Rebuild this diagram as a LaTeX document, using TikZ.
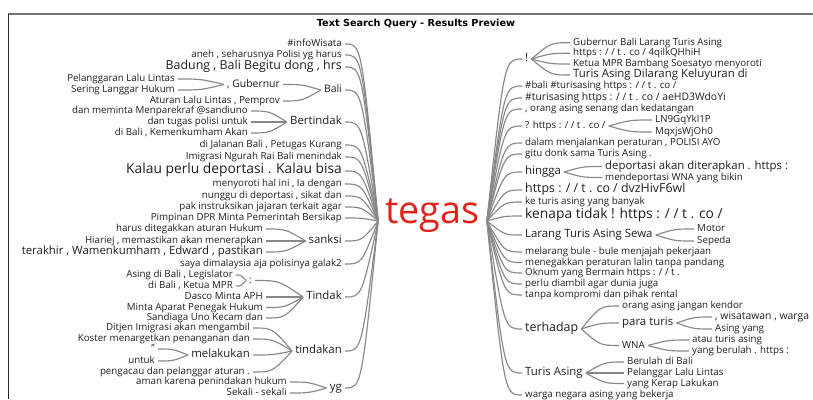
\documentclass[tikz,border=0pt]{standalone}
\usepackage{fontspec}
\setmainfont{Open Sans}
\newfontfamily\titlefont{DejaVu Sans}
\usetikzlibrary{calc}
\definecolor{txtc}{HTML}{1E1E1E}
\definecolor{lnc}{HTML}{888888}
\definecolor{redc}{HTML}{E3221B}
\newcommand\lnk[2]{\draw[link] let \p1=(#1), \p2=(#2) in (\p1) .. controls ({0.5*\x1+0.5*\x2},\y2) .. (\p2);}
\begin{document}
\begin{tikzpicture}[x=1pt,y=-1pt,
  link/.style={draw=lnc, line width=1.15pt},
  wt/.style={text=txtc, inner xsep=3pt, inner ysep=0.5pt},
  fsm/.style={wt, font=\fontsize{9.75}{11}\selectfont},
  fsmb/.style={wt, font=\fontsize{10.4}{12}\selectfont},
  fmd/.style={wt, font=\fontsize{11.4}{13}\selectfont},
  fml/.style={wt, font=\fontsize{12.4}{14}\selectfont},
  flg/.style={wt, font=\fontsize{13.8}{15}\selectfont},
  lft/.style={anchor=mid east},
  rgt/.style={anchor=mid west}]
\useasboundingbox (0,0) rectangle (813,399);
\draw[draw=black!55, line width=1.2pt] (8,14) -- (813,14);
\draw[draw=black!85, line width=1.2pt] (8.5,14) -- (8.5,399);
\node[font=\titlefont\bfseries\fontsize{9.7}{11}\selectfont, text=black] (title) at (416,24) {Text Search Query - Results Preview};
\node[font=\fontsize{37.8}{40}\selectfont, text=redc, inner xsep=7pt, inner ysep=0pt, anchor=mid] (root) at (432.5,221) {tegas};
% ---------- left level 1
\node[fsm,lft] (l1) at (345,44) {\#infoWisata};
\node[fsm,lft] (l2) at (345,55) {aneh , seharusnya Polisi yg harus};
\node[fml,lft] (l3) at (345,67) {Badung , Bali Begitu dong , hrs};
\node[fsmb,lft] (l4) at (345,90) {Bali};
\node[fmd,lft] (l5) at (345,122) {Bertindak};
\node[fsm,lft] (l6) at (345,145) {di Jalanan Bali , Petugas Kurang};
\node[fsm,lft] (l7) at (345,157) {Imigrasi Ngurah Rai Bali menindak};
\node[flg,lft] (l8) at (345,171) {Kalau perlu deportasi . Kalau bisa};
\node[fsm,lft] (l9) at (345,184) {menyoroti hal ini , Ia dengan};
\node[fsm,lft] (l10) at (345,196) {nunggu di deportasi , sikat dan};
\node[fsm,lft] (l11) at (345,207) {pak instruksikan jajaran terkait agar};
\node[fsm,lft] (l12) at (345,218) {Pimpinan DPR Minta Pemerintah Bersikap};
\node[fmd,lft] (l13) at (345,241) {sanksi};
\node[fsm,lft] (l14) at (345,264) {saya dimalaysia aja polisinya galak2};
\node[fmd,lft] (l15) at (345,297) {Tindak};
\node[fmd,lft] (l16) at (345,351) {tindakan};
\node[fmd,lft] (l17) at (345,388) {yg};
\foreach \nd in {l1,l2,l3,l4,l5,l6,l7,l8,l9,l10,l11,l12,l13,l14,l15,l16,l17}{\lnk{root.mid west}{\nd.mid east}}
% Bali
\node[fsmb,lft] (ba1) at (283,84.5) {, Gubernur};
\node[fsm,lft] (ba2) at (283,101) {Aturan Lalu Lintas , Pemprov};
\node[fsm,lft] (gu1) at (178,79) {Pelanggaran Lalu Lintas};
\node[fsm,lft] (gu2) at (178,90) {Sering Langgar Hukum};
\lnk{l4.mid west}{ba1.mid east}
\lnk{l4.mid west}{ba2.mid east}
\lnk{ba1.mid west}{gu1.mid east}
\lnk{ba1.mid west}{gu2.mid east}
% Bertindak
\node[fsm,lft] (be1) at (251,111) {dan meminta Menparekraf @sandiuno};
\node[fsm,lft] (be2) at (251,122) {dan tugas polisi untuk};
\node[fsm,lft] (be3) at (251,133) {di Bali , Kemenkumham Akan};
\foreach \nd in {be1,be2,be3}{\lnk{l5.mid west}{\nd.mid east}}
% sanksi
\node[fsm,lft] (sa1) at (266,229) {harus ditegakkan aturan Hukum};
\node[fsm,lft] (sa2) at (266,241) {Hiariej , memastikan akan menerapkan};
\node[fmd,lft] (sa3) at (266,252) {terakhir , Wamenkumham , Edward , pastikan};
\foreach \nd in {sa1,sa2,sa3}{\lnk{l13.mid west}{\nd.mid east}}
% Tindak
\node[fsm,lft] (ti1) at (255,280.5) {:};
\node[fsm,lft] (ti2) at (266,297) {Dasco Minta APH};
\node[fsm,lft] (ti3) at (266,307.5) {Minta Aparat Penegak Hukum};
\node[fsm,lft] (ti4) at (266,318) {Sandiaga Uno Kecam dan};
\foreach \nd in {ti1,ti2,ti3,ti4}{\lnk{l15.mid west}{\nd.mid east}}
\node[fsm,lft] (co1) at (236,275) {Asing di Bali , Legislator};
\node[fsm,lft] (co2) at (236,286) {di Bali , Ketua MPR};
\lnk{ti1.mid west}{co1.mid east}
\lnk{ti1.mid west}{co2.mid east}
% tindakan
\node[fsm,lft] (tk1) at (253,328) {Ditjen Imigrasi akan mengambil};
\node[fsm,lft] (tk2) at (253,339) {Koster menargetkan penanganan dan};
\node[fmd,lft] (tk3) at (253,355) {melakukan};
\node[fsm,lft] (tk4) at (253,372) {pengacau dan pelanggar aturan .};
\foreach \nd in {tk1,tk2,tk3,tk4}{\lnk{l16.mid west}{\nd.mid east}}
\node[fsm,lft] (me1) at (158,349) {"};
\node[fsm,lft] (me2) at (158,361) {untuk};
\lnk{tk3.mid west}{me1.mid east}
\lnk{tk3.mid west}{me2.mid east}
% yg
\node[fsm,lft] (yg1) at (290,382) {aman karena penindakan hukum};
\node[fsm,lft] (yg2) at (290,393) {Sekali - sekali};
\lnk{l17.mid west}{yg1.mid east}
\lnk{l17.mid west}{yg2.mid east}
% ---------- right level 1
\node[fmd,rgt] (r1) at (522,59) {!};
\node[fsm,rgt] (r2) at (522,86) {\#bali \#turisasing https : / / t . co /};
\node[fsmb,rgt] (r3) at (522,98) {\#turisasing https : / / t . co / aeHD3WdoYi};
\node[fsm,rgt] (r4) at (522,109) {, orang asing senang dan kedatangan};
\node[fsm,rgt] (r5) at (522,126) {? https : / / t . co /};
\node[fsm,rgt] (r6) at (522,143) {dalam menjalankan peraturan , POLISI AYO};
\node[fsm,rgt] (r7) at (522,154) {gitu donk sama Turis Asing .};
\node[fmd,rgt] (r8) at (522,172) {hingga};
\node[fml,rgt] (r9) at (522,190) {https : / / t . co / dvzHivF6wl};
\node[fsm,rgt] (r10) at (522,202) {ke turis asing yang banyak};
\node[flg,rgt] (r11) at (522,216) {kenapa tidak ! https : / / t . co /};
\node[fmd,rgt] (r12) at (522,235) {Larang Turis Asing Sewa};
\node[fsm,rgt] (r13) at (522,252) {melarang bule - bule menjajah pekerjaan};
\node[fsm,rgt] (r14) at (522,262.5) {menegakkan peraturan lalin tanpa pandang};
\node[fsm,rgt] (r15) at (522,273) {Oknum yang Bermain https : / / t .};
\node[fsm,rgt] (r16) at (522,284) {perlu diambil agar dunia juga};
\node[fsm,rgt] (r17) at (522,295) {tanpa kompromi dan pihak rental};
\node[fml,rgt] (r18) at (522,329) {terhadap};
\node[fmd,rgt] (r19) at (522,373) {Turis Asing};
\node[fsm,rgt] (r20) at (522,395) {warga negara asing yang bekerja};
\foreach \nd in {r1,r2,r3,r4,r5,r6,r7,r8,r9,r10,r11,r12,r13,r14,r15,r16,r17,r18,r19,r20}{\lnk{root.mid east}{\nd.mid west}}
% !
\node[fsm,rgt] (ex1) at (570,42.7) {Gubernur Bali Larang Turis Asing};
\node[fsm,rgt] (ex2) at (570,53.3) {https : / / t . co / 4qilkQHhiH};
\node[fsm,rgt] (ex3) at (570,64) {Ketua MPR Bambang Soesatyo menyoroti};
\node[fmd,rgt] (ex4) at (570,75) {Turis Asing Dilarang Keluyuran di};
\foreach \nd in {ex1,ex2,ex3,ex4}{\lnk{r1.mid east}{\nd.mid west}}
% ? https
\node[fsm,rgt] (qu1) at (652,120) {LN9GqYkl1P};
\node[fsm,rgt] (qu2) at (652,132) {MqxjsWjOh0};
\lnk{r5.mid east}{qu1.mid west}
\lnk{r5.mid east}{qu2.mid west}
% hingga
\node[fmd,rgt] (hi1) at (602,166.5) {deportasi akan diterapkan . https :};
\node[fsm,rgt] (hi2) at (602,177.5) {mendeportasi WNA yang bikin};
\lnk{r8.mid east}{hi1.mid west}
\lnk{r8.mid east}{hi2.mid west}
% Larang
\node[fsm,rgt] (la1) at (694,229) {Motor};
\node[fsm,rgt] (la2) at (694,241) {Sepeda};
\lnk{r12.mid east}{la1.mid west}
\lnk{r12.mid east}{la2.mid west}
% terhadap
\node[fsm,rgt] (te1) at (619,306) {orang asing jangan kendor};
\node[fmd,rgt] (te2) at (619,323) {para turis};
\node[fsm,rgt] (te3) at (619,345.5) {WNA};
\foreach \nd in {te1,te2,te3}{\lnk{r18.mid east}{\nd.mid west}}
\node[fsmb,rgt] (pt1) at (712,317) {, wisatawan , warga};
\node[fsm,rgt] (pt2) at (712,329) {Asing yang};
\lnk{te2.mid east}{pt1.mid west}
\lnk{te2.mid east}{pt2.mid west}
\node[fsm,rgt] (wn1) at (689,340) {atau turis asing};
\node[fsm,rgt] (wn2) at (689,351) {yang berulah . https :};
\lnk{te3.mid east}{wn1.mid west}
\lnk{te3.mid east}{wn2.mid west}
% Turis Asing
\node[fsm,rgt] (tu1) at (624,362) {Berulah di Bali};
\node[fsm,rgt] (tu2) at (624,373) {Pelanggar Lalu Lintas};
\node[fsm,rgt] (tu3) at (624,383.5) {yang Kerap Lakukan};
\foreach \nd in {tu1,tu2,tu3}{\lnk{r19.mid east}{\nd.mid west}}
\end{tikzpicture}
\end{document}
